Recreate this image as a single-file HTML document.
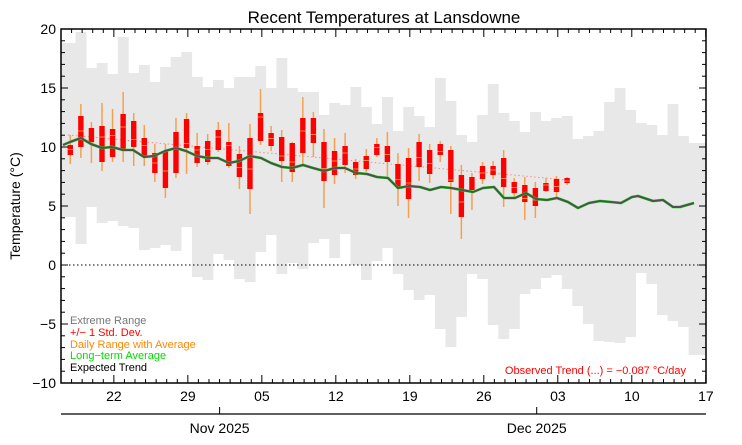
<!DOCTYPE html>
<html><head><meta charset="utf-8"><style>
html,body{margin:0;padding:0;background:#fff;}
svg{display:block;font-family:"Liberation Sans",Arial,sans-serif;}
</style></head><body>
<svg id="s" width="742" height="445" viewBox="0 0 742 445" xmlns="http://www.w3.org/2000/svg">
<rect width="742" height="445" fill="#fff"/>
<g id="grey"></g>
<line x1="61" y1="265" x2="706" y2="265" stroke="#000" stroke-width="1" stroke-dasharray="1.5,2.5"/>
<polyline id="trend" fill="none" stroke="#f88" stroke-width="1" stroke-dasharray="1.5,2.5" points="68,135 568,180"/>
<g id="bars"></g>
<polyline id="avgG" fill="none" stroke="#22ee22" stroke-width="2.8" stroke-linejoin="round"/>
<polyline id="avgK" fill="none" stroke="#505050" stroke-width="2" stroke-linejoin="round"/>
<rect x="61" y="29" width="645" height="354" fill="none" stroke="#000" stroke-width="1.5"/>
<g id="ticks" stroke="#000" stroke-width="1"></g>
<text x="384" y="23" font-size="17" text-anchor="middle">Recent Temperatures at Lansdowne</text>
<text transform="translate(20,206) rotate(-90)" font-size="14" text-anchor="middle">Temperature (°C)</text>
<g font-size="14" text-anchor="end">
<text x="56" y="34">20</text><text x="56" y="93">15</text><text x="56" y="152">10</text>
<text x="56" y="211">5</text><text x="56" y="270">0</text><text x="56" y="329">−5</text><text x="56" y="388">−10</text>
</g>
<g font-size="14" text-anchor="middle">
<text x="113.9" y="401">22</text><text x="187.9" y="401">29</text><text x="261.9" y="401">05</text>
<text x="335.9" y="401">12</text><text x="409.9" y="401">19</text><text x="483.9" y="401">26</text>
<text x="557.9" y="401">03</text><text x="631.9" y="401">10</text><text x="705.9" y="401">17</text>
<text x="219.6" y="433">Nov 2025</text><text x="536.7" y="433">Dec 2025</text>
</g>
<line x1="61" y1="414" x2="706" y2="414" stroke="#000" stroke-width="1.2"/>
<line x1="219.6" y1="414" x2="219.6" y2="407" stroke="#000"/>
<line x1="536.7" y1="414" x2="536.7" y2="407" stroke="#000"/>
<g font-size="11">
<text x="70" y="324" fill="#777">Extreme Range</text>
<text x="70" y="336" fill="#ff0000">+/− 1 Std. Dev.</text>
<text x="70" y="348" fill="#ff8800">Daily Range with Average</text>
<text x="70" y="359" fill="#00dd00">Long−term Average</text>
<text x="70" y="371" fill="#000">Expected Trend</text>
<text x="686" y="374" fill="#ff0000" text-anchor="end">Observed Trend (...) = −0.087 °C/day</text>
</g>
</svg>
<script>
var NS="http://www.w3.org/2000/svg";
function el(p,t,a){var e=document.createElementNS(NS,t);for(var k in a)e.setAttribute(k,a[k]);p.appendChild(e);return e;}
var W=10.57;
var tops=[43,43,32,68,63,74,37,73,65,82,67,57,52,77,87,80,88,77,77,66,88,58,88,92,92,115,103,105,87,107,124,97,131,107,116,127,78,101,135,142,115,84,113,121,132,112,121,118,116,139,136,131,102,88,110,123,125,135,104,136,143,143];
var bots=[217,217,244,207,223,221,226,228,250,248,245,251,227,277,280,254,260,279,282,252,235,274,263,269,243,239,258,234,265,280,261,248,274,290,300,295,329,347,317,274,279,325,339,329,294,289,278,275,289,306,324,341,342,343,337,273,284,315,321,327,355,355];
var g=document.getElementById("grey");
for(var c=0;c<62;c++){var x0=c==0?61:65+(c-1)*W;var x1=c==0?65:Math.min(706,65+c*W);
el(g,"rect",{x:x0,y:tops[c],width:x1-x0+0.3,height:bots[c]-tops[c],fill:"#e8e8e8"});}
var bars=[[1,145,155,135,164],[2,116,147,104,158],[3,128,142,122,163],[4,126,162,103,171],[5,129,157,109,162],[6,114,149,92,162],[7,121,147,113,166],[8,138,157,125,166],[9,153,173,144,182],[10,151,188,144,198],[11,132,173,118,178],[12,119,148,113,174],[13,146,163,133,167],[14,141,162,134,165],[15,130,150,122,152],[16,142,166,123,168],[17,154,177,146,189],[18,138,189,124,214],[19,113,141,89,145],[20,133,146,126,151],[21,137,161,130,182],[22,143,172,142,182],[23,118,153,97,165],[24,118,143,112,157],[25,142,181,129,208],[26,151,175,138,184],[27,146,165,133,173],[28,162,175,159,179],[29,156,169,149,172],[30,144,155,138,157],[31,146,162,132,177],[32,164,187,153,206],[33,158,199,148,218],[34,142,167,134,181],[35,150,174,144,183],[36,144,155,141,162],[37,150,182,146,214],[38,175,217,165,239],[39,177,190,173,210],[40,166,179,162,184],[41,166,175,161,179],[42,158,187,150,207],[43,182,193,178,197],[44,185,202,177,220],[45,188,206,182,218],[46,183,191,178,192],[47,179,192,176,197],[48,178,183,177,185]];
var b=document.getElementById("bars");
bars.forEach(function(r){var cx=65+(r[0]-0.5)*W;
el(b,"line",{x1:cx,x2:cx,y1:r[3],y2:r[4],stroke:"#f5a050","stroke-width":1.5});
el(b,"rect",{x:cx-2.7,y:r[1],width:5.4,height:r[2]-r[1],fill:"#ff0000"});
el(b,"line",{x1:cx-2.7,x2:cx+2.7,y1:(r[3]+r[4])/2,y2:(r[3]+r[4])/2,stroke:"#f5a050","stroke-width":0.8});});
var avg="63,145 70,142 81,138 91,144 102,148 112,147 123,150 133,150 144,157 154,156 165,151 176,148 186,151 197,156 208,158 218,158 229,163 239,161 250,156 261,158 271,163 282,167 292,168 303,165 313,168 324,171 335,168 345,168 356,173 367,174 377,177 388,178 398,188 409,186 420,187 430,190 441,187 451,188 462,190 473,192 483,188 494,187 504,198 515,198 526,193 536,199 547,200 557,198 568,202 578,208 589,203 600,201 611,202 621,203 632,197 638,196 653,201 663,200 673,207 680,207 694,203";
document.getElementById("avgG").setAttribute("points",avg);
document.getElementById("avgK").setAttribute("points",avg);
var t=document.getElementById("ticks");
for(var d=0;d<=61;d++){var x=61+d*W;if(x>706.5)break;var maj=((d-5)%7==0);var L=maj?8:4;
el(t,"line",{x1:x,x2:x,y1:383,y2:383-L});el(t,"line",{x1:x,x2:x,y1:29,y2:29+L});}
for(var v=-10;v<=20;v++){var y=265-v*11.8;var L=(v%5==0)?7:4;
el(t,"line",{x1:61,x2:61+L,y1:y,y2:y});el(t,"line",{x1:706,x2:706-L,y1:y,y2:y});}
</script>
</body></html>
